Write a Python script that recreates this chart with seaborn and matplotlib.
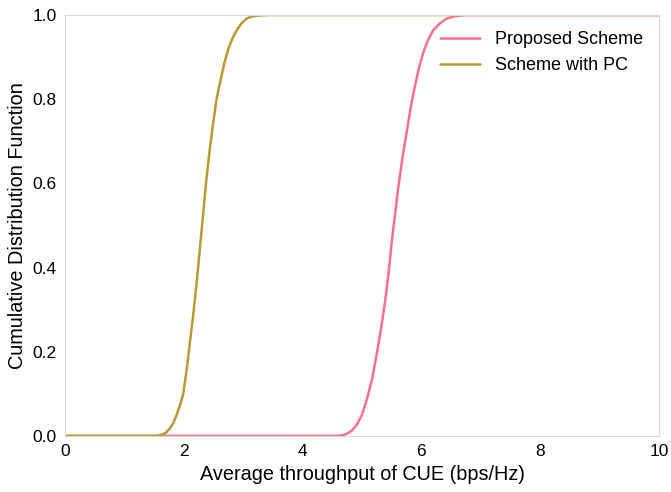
import pandas as pd
import seaborn as sns
import matplotlib
matplotlib.use('Agg')
import matplotlib.pyplot as plt

# CDF points
proposed_x = [0, 4.55, 4.62, 4.69, 4.76, 4.83, 4.91, 5.00, 5.08, 5.17, 5.25, 5.32, 5.39, 5.45,
              5.50, 5.56, 5.61, 5.68, 5.75, 5.82, 5.89, 5.96, 6.03, 6.11, 6.20, 6.31, 6.43,
              6.57, 6.71, 10]
proposed_y = [0, 0.0, 0.0005, 0.002, 0.006, 0.013, 0.026, 0.05, 0.086, 0.135, 0.196, 0.255, 0.32, 0.39,
              0.46, 0.53, 0.59, 0.66, 0.72, 0.78, 0.83, 0.875, 0.91, 0.94, 0.964, 0.98, 0.992,
              0.997, 1.0, 1.0]

pc_x = [0, 1.50, 1.55, 1.60, 1.65, 1.70, 1.76, 1.82, 1.88, 1.94, 1.99, 2.05, 2.10, 2.16, 2.22,
        2.26, 2.30, 2.34, 2.38, 2.44, 2.50, 2.55, 2.61, 2.68, 2.75, 2.82, 2.89, 2.97, 3.06,
        3.16, 3.28, 3.45, 10]
pc_y = [0, 0.0, 0.0005, 0.002, 0.004, 0.008, 0.017, 0.03, 0.05, 0.075, 0.10, 0.16, 0.22, 0.29, 0.37,
        0.43, 0.49, 0.55, 0.61, 0.685, 0.75, 0.80, 0.84, 0.885, 0.92, 0.945, 0.964, 0.98, 0.992,
        0.997, 0.999, 1.0, 1.0]

labels = ['Proposed Scheme', 'Scheme with PC']
colors = ['#f77189', '#bb9832']

sns.set_style('white', {'axes.edgecolor': '.85', 'text.color': 'black',
                        'axes.labelcolor': 'black', 'xtick.color': 'black', 'ytick.color': 'black'})
plt.rcParams['font.family'] = ['Liberation Sans', 'DejaVu Sans']

fig, ax = plt.subplots(figsize=(6.71, 4.92), dpi=100)
fig.subplots_adjust(left=0.097, right=0.982, top=0.9695, bottom=0.114)

sns.lineplot(x=proposed_x, y=proposed_y, ax=ax, color=colors[0], label=labels[0], lw=1.8, sort=False)
sns.lineplot(x=pc_x, y=pc_y, ax=ax, color=colors[1], label=labels[1], lw=1.8, sort=False)

ax.set_xlim(0, 10)
ax.set_ylim(0, 1)
ax.set_xticks([0, 2, 4, 6, 8, 10])
ax.set_yticks([0, 0.2, 0.4, 0.6, 0.8, 1.0])
ax.set_yticklabels(['0.0', '0.2', '0.4', '0.6', '0.8', '1.0'])
ax.tick_params(labelsize=12.5, length=0, pad=6)
ax.set_xlabel('Average throughput of CUE (bps/Hz)', fontsize=14.3)
ax.set_ylabel('Cumulative Distribution Function', fontsize=14.3)
ax.legend(loc='upper right', frameon=False, fontsize=13, handlelength=2.2,
          handletextpad=0.83, bbox_to_anchor=(1.0, 1.0))

fig.savefig('out.png', dpi=100)
